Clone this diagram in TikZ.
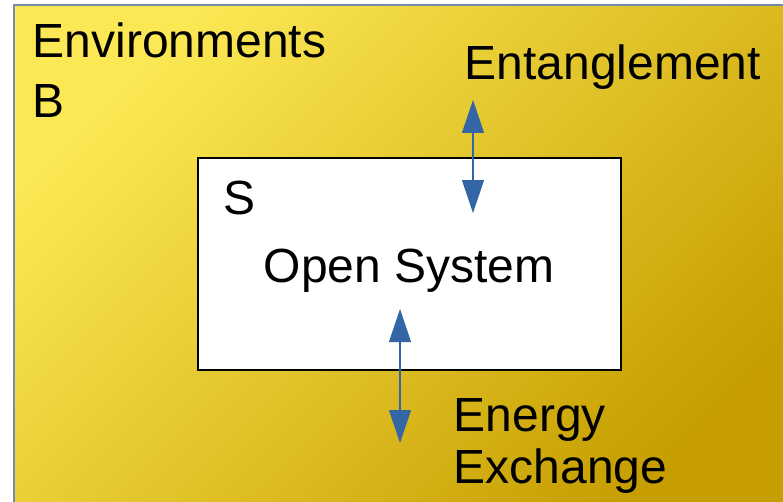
\documentclass[tikz,border=0pt]{standalone}
\usepackage{fontspec}
\setmainfont{Liberation Sans}
\usetikzlibrary{arrows.meta}

\definecolor{envlight}{RGB}{252,232,84}
\definecolor{envdark}{RGB}{198,158,0}
\definecolor{envline}{RGB}{114,140,170}
\definecolor{arrowblue}{RGB}{52,101,164}

\tikzset{
  lbl/.style={inner sep=0pt, anchor=base west, font=\fontsize{27.3}{32}\selectfont},
  pair/.style={arrowblue, line width=0.6pt,
    {Triangle[width=0.44cm,length=0.66cm]}-{Triangle[width=0.44cm,length=0.66cm]}}
}

\begin{document}
\begin{tikzpicture}[x=0.02cm,y=-0.02cm]
\useasboundingbox (0,0) rectangle (783,501);
\clip (0,0) rectangle (783,501);
% environment
\shade[top color=envlight, bottom color=envdark, shading angle=45] (14,5) rectangle (800,520);
\draw[envline, line width=0.6pt] (14,520) -- (14,5) -- (800,5);
\node[lbl] (env) at (32.5,57) {Environments};
\node[lbl] (envb) at (32,117) {B};
%
% open system
\draw[black, fill=white, line width=1.1pt] (198,158) rectangle (621,370);
\node[lbl] (sys) at (223,214) {S};
\node[lbl] (open) at (263.5,282) {Open System};
%
% arrows
\coordinate (enttop) at (473,100);
\coordinate (entbot) at (473,213);
\coordinate (engtop) at (400,309);
\coordinate (engbot) at (400,443);
\draw[pair] (enttop) -- (entbot);
\draw[pair] (engtop) -- (engbot);
\node[lbl] (ent) at (464.5,79) {Entanglement};
\node[lbl] (eng) at (453.5,431) {Energy};
\node[lbl] (exch) at (453.5,483) {Exchange};
\end{tikzpicture}
\end{document}
